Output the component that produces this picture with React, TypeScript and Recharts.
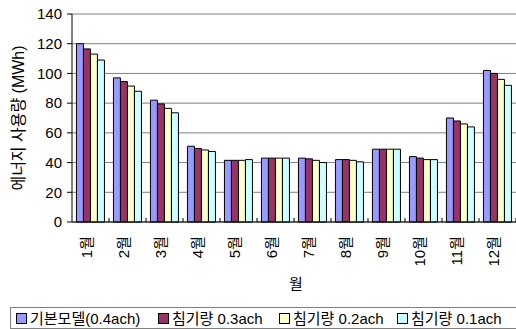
import React from "react";
import { BarChart, Bar, XAxis, YAxis, CartesianGrid } from "recharts";

const months = ["1월", "2월", "3월", "4월", "5월", "6월", "7월", "8월", "9월", "10월", "11월", "12월"];
const base04 = [120, 97, 82, 51, 41.5, 43, 43, 42, 49, 44, 70, 102];
const inf03 = [116.5, 94.5, 79.5, 49.5, 41.5, 43, 42.5, 42, 49, 43, 68, 100];
const inf02 = [113, 91.5, 76.5, 48.5, 41.5, 43, 41.5, 41.5, 49, 42, 66, 96];
const inf01 = [109, 88, 73.5, 47.5, 42, 43, 40, 40.5, 49, 42, 64, 92];
const yTicks = [0, 20, 40, 60, 80, 100, 120, 140];

const seriesNames = ["기본모델(0.4ach)", "침기량 0.3ach", "침기량 0.2ach", "침기량 0.1ach"];
const seriesColors = ["#9999FF", "#993366", "#FFFFCC", "#CCFFFF"];
const seriesKeys = ["s0", "s1", "s2", "s3"];

const data = months.map((m, i) => ({
  month: m,
  s0: base04[i],
  s1: inf03[i],
  s2: inf02[i],
  s3: inf01[i],
}));

const FONT = '"Liberation Sans", "Noto Sans CJK KR", Arial, sans-serif';

const XTick = (props: any) => {
  const { x, y, payload } = props;
  const half = payload && payload.offset ? payload.offset : 18.5;
  return (
    <g>
      <line x1={x + half} x2={x + half} y1={y} y2={y - 4} stroke="#000" strokeWidth={1} />
      <text
        x={x + 1}
        y={y + 14}
        transform={`rotate(-90, ${x + 1}, ${y + 14})`}
        textAnchor="end"
        fontSize={15}
        fontFamily={FONT}
        fill="#000"
      >
        {payload.value}
      </text>
    </g>
  );
};

const YLabel = (props: any) => {
  const vb = props.viewBox || { x: 0, y: 14, width: 72, height: 208 };
  const cx = vb.x + 24;
  const cy = vb.y + vb.height / 2;
  return (
    <text
      x={cx}
      y={cy}
      transform={`rotate(-90, ${cx}, ${cy})`}
      textAnchor="middle"
      fontSize={16}
      fontFamily={FONT}
      fill="#000"
    >
      에너지 사용량 (MWh)
    </text>
  );
};

const XLabel = (props: any) => {
  const vb = props.viewBox || { x: 72, y: 222, width: 444, height: 85 };
  return (
    <text
      x={vb.x + vb.width / 2 + 2}
      y={vb.y + 67}
      textAnchor="middle"
      fontSize={15}
      fontFamily={FONT}
      fill="#000"
    >
      월
    </text>
  );
};

const legendLefts = [5, 147, 268, 386];

export default function App() {
  return (
    <div
      style={{
        position: "absolute",
        left: 0,
        top: 0,
        width: 516,
        height: 329,
        overflow: "hidden",
        background: "#fff",
      }}
    >
      <BarChart
        width={516}
        height={307}
        data={data}
        margin={{ top: 14, right: 0, bottom: 0, left: 0 }}
        barCategoryGap="12%"
        barGap={0}
      >
        <CartesianGrid vertical={false} stroke="#808080" strokeWidth={1} />
        <XAxis
          dataKey="month"
          height={85}
          interval={0}
          tickLine={false}
          tickSize={0}
          tickMargin={0}
          axisLine={{ stroke: "#000" }}
          tick={<XTick />}
          label={<XLabel />}
        />
        <YAxis
          width={72}
          domain={[0, 140]}
          ticks={yTicks}
          interval={0}
          tickSize={5}
          tickMargin={5}
          axisLine={{ stroke: "#000" }}
          tickLine={{ stroke: "#000" }}
          tick={{ fontSize: 15, fontFamily: FONT, fill: "#000" }}
          label={<YLabel />}
        />
        {seriesKeys.map((k, i) => (
          <Bar
            key={k}
            dataKey={k}
            name={seriesNames[i]}
            fill={seriesColors[i]}
            stroke="#000"
            strokeWidth={1}
            isAnimationActive={false}
          />
        ))}
      </BarChart>
      <div
        style={{
          position: "absolute",
          left: 10,
          top: 307,
          width: 520,
          height: 22,
          border: "1px solid #808080",
          boxSizing: "border-box",
          fontFamily: FONT,
          fontSize: 15,
          color: "#000",
        }}
      >
        {seriesNames.map((n, i) => (
          <div
            key={n}
            style={{
              position: "absolute",
              left: legendLefts[i],
              top: 1,
              display: "flex",
              alignItems: "center",
              whiteSpace: "nowrap",
              lineHeight: "19px",
            }}
          >
            <span
              style={{
                display: "inline-block",
                width: 9,
                height: 9,
                background: seriesColors[i],
                border: "1px solid #000",
                marginRight: 3,
              }}
            />
            <span>{n}</span>
          </div>
        ))}
      </div>
    </div>
  );
}
